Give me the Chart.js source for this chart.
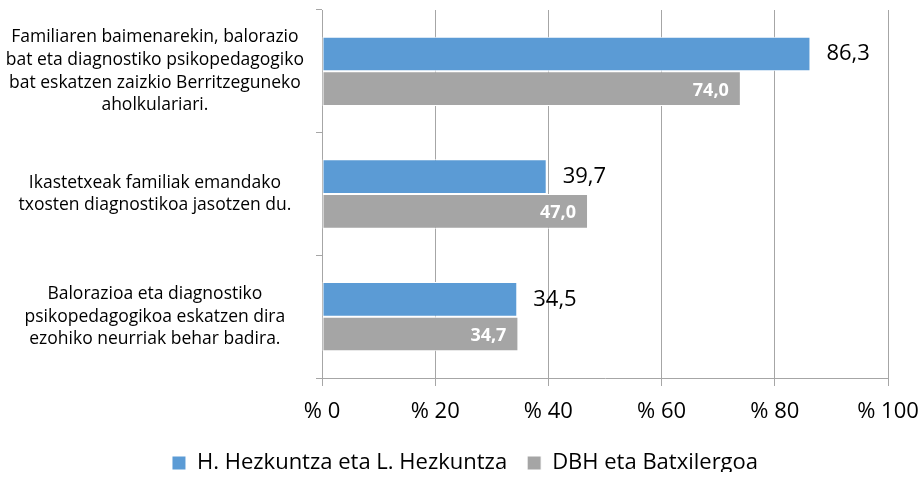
<!DOCTYPE html>
<html>
<head>
<meta charset="utf-8">
<script src="https://cdn.jsdelivr.net/npm/chart.js@4"></script>
<style>
  html, body { margin: 0; padding: 0; background: #ffffff; }
  #wrap { width: 924px; height: 477px; }
</style>
</head>
<body>
<div id="wrap"><canvas id="barChart" width="924" height="477"></canvas></div>
<script>
// chart data
const categories = [
    ["Familiaren baimenarekin, balorazio", "bat eta diagnostiko psikopedagogiko", "bat eskatzen zaizkio Berritzeguneko", "aholkulariari."],
    ["Ikastetxeak familiak emandako", "txosten diagnostikoa jasotzen du."],
    ["Balorazioa eta diagnostiko", "psikopedagogikoa eskatzen dira", "ezohiko neurriak behar badira."]
];
const seriesNames = ["H. Hezkuntza eta L. Hezkuntza", "DBH eta Batxilergoa"];
const primaryValues = [86.3, 39.7, 34.5];
const secondaryValues = [74.0, 47.0, 34.7];
const xTicks = [0, 20, 40, 60, 80, 100];

const blueColor = "#5b9bd5";
const grayColor = "#a5a5a5";
const fontFamily = "'Open Sans', Lato, sans-serif";

function formatValue(v) {
    return v.toFixed(1).replace(".", ",");
}

// draws value labels next to / inside the bars
const valueLabels = {
    id: "valueLabels",
    afterDatasetsDraw(chart) {
        const ctx = chart.ctx;
        ctx.save();
        ctx.textBaseline = "middle";
        chart.data.datasets.forEach(function (ds, i) {
            const meta = chart.getDatasetMeta(i);
            meta.data.forEach(function (bar, j) {
                const txt = formatValue(ds.data[j]);
                if (i === 0) {
                    ctx.font = "22px " + fontFamily;
                    ctx.fillStyle = "#000000";
                    ctx.textAlign = "left";
                    ctx.fillText(txt, bar.x + 16, bar.y);
                } else {
                    ctx.font = "bold 18px " + fontFamily;
                    ctx.fillStyle = "#ffffff";
                    ctx.textAlign = "right";
                    ctx.fillText(txt, bar.x - 12, bar.y + 2);
                }
            });
        });
        ctx.restore();
    }
};

// legend sits closer to the bottom and a bit to the right
const legendPlace = {
    id: "legendPlace",
    beforeInit(chart) {
        const fit = chart.legend.fit;
        chart.legend.fit = function () {
            fit.bind(chart.legend)();
            this.height -= 12;
        };
    },
    afterLayout(chart) {
        chart.legend.left += 21;
        chart.legend.right += 21;
    }
};

let ctx = document.getElementById("barChart").getContext("2d");
new Chart(ctx, {
    type: "bar",
    data: {
        labels: categories,
        datasets: [
            {
                label: seriesNames[0],
                data: primaryValues,
                backgroundColor: blueColor,
                borderColor: "#ffffff",
                borderWidth: 1,
                borderSkipped: false
            },
            {
                label: seriesNames[1],
                data: secondaryValues,
                backgroundColor: grayColor,
                borderColor: "#ffffff",
                borderWidth: 1,
                borderSkipped: false
            }
        ]
    },
    options: {
        indexAxis: "y",
        responsive: false,
        animation: false,
        devicePixelRatio: 1,
        layout: { padding: { top: 10, right: 36, left: 0, bottom: 5 } },
        datasets: {
            bar: { categoryPercentage: 0.565, barPercentage: 1 }
        },
        scales: {
            x: {
                min: 0,
                max: 100,
                afterBuildTicks: function (axis) {
                    axis.ticks = xTicks.map(function (v) { return { value: v }; });
                },
                grid: { color: "#a6a6a6", lineWidth: 1, tickLength: 8 },
                border: { color: "#a6a6a6" },
                ticks: {
                    color: "#000000",
                    font: { family: fontFamily, size: 22 },
                    padding: 13,
                    maxRotation: 0,
                    callback: function (v) { return "% " + v; }
                },
                afterFit: function (axis) {
                    axis.height = 54;
                    axis.paddingLeft = 0;
                    axis.paddingRight = 0;
                }
            },
            y: {
                grid: { drawOnChartArea: false, color: "#a6a6a6", tickLength: 6, offset: true },
                border: { color: "#a6a6a6" },
                ticks: {
                    color: "#000000",
                    font: { family: fontFamily, size: 17.5, lineHeight: 1.29 },
                    crossAlign: "center",
                    padding: 12
                },
                afterFit: function (axis) {
                    axis.width = 322;
                    axis.paddingTop = 0;
                    axis.paddingBottom = 0;
                }
            }
        },
        plugins: {
            legend: {
                position: "bottom",
                labels: {
                    color: "#000000",
                    font: { family: fontFamily, size: 22 },
                    boxWidth: 14,
                    boxHeight: 14,
                    padding: 20,
                    useBorderRadius: false
                }
            },
            tooltip: { enabled: false }
        }
    },
    plugins: [valueLabels, legendPlace]
});
</script>
</body>
</html>
